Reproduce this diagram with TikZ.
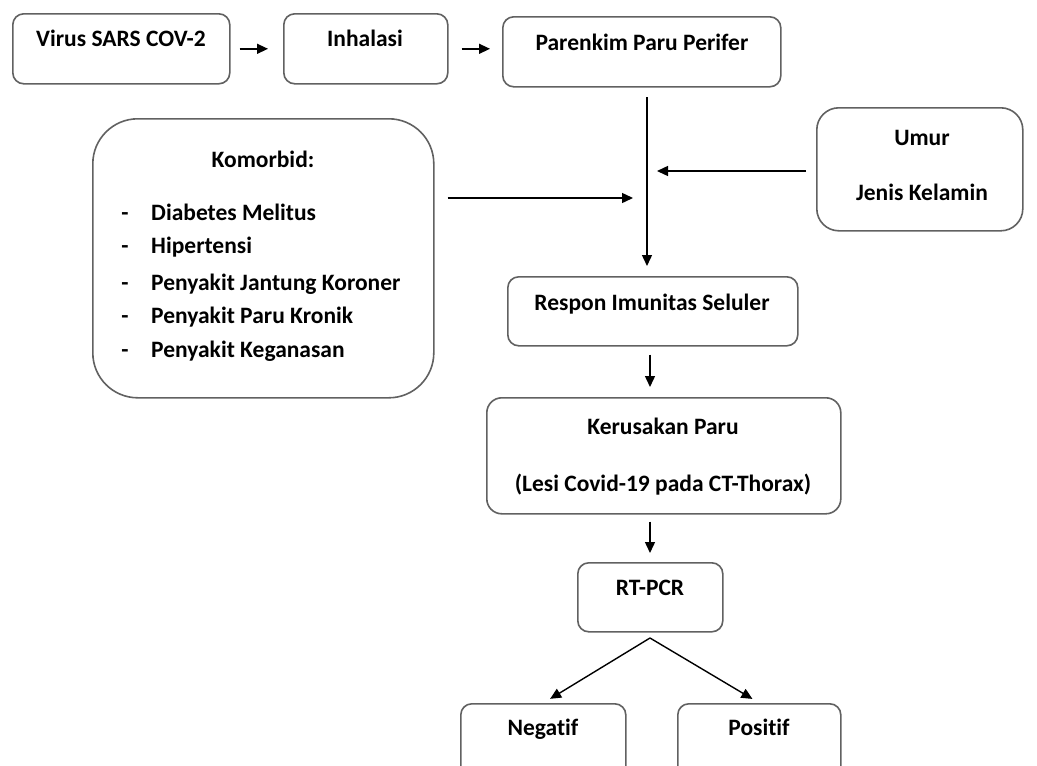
\documentclass[tikz,border=0pt]{standalone}
\usepackage{fontspec}
\setmainfont{Carlito}[Ligatures={NoCommon}]
\usetikzlibrary{arrows.meta,calc}
\tikzset{
  box/.style={draw=black!62, line width=1.6pt, anchor=north west, inner sep=0pt, fill=none},
  txt/.style={font=\bfseries\fontsize{23.5}{28}\selectfont, inner sep=0pt, anchor=base},
  arr/.style={line width=1.4pt, -{Triangle[length=11pt,width=10pt]}},
  ln/.style={line width=1.4pt}
}
\begin{document}
\begin{tikzpicture}[x=1pt,y=-1pt]
\useasboundingbox (0,0) rectangle (1037,766);
\fill[white] (0,0) rectangle (1037,766);
\clip (0,0) rectangle (1037,766);
% boxes
\node[box, rounded corners=11pt, minimum width=217pt, minimum height=70pt] (virus) at (12,13) {};
\node[box, rounded corners=11pt, minimum width=164pt, minimum height=70pt] (inhal) at (283,13) {};
\node[box, rounded corners=11pt, minimum width=278pt, minimum height=70pt] (paren) at (502,16) {};
\node[box, rounded corners=45pt, minimum width=341pt, minimum height=279pt] (komor) at (92,118) {};
\node[box, rounded corners=22pt, minimum width=206pt, minimum height=123pt] (umur) at (816,107) {};
\node[box, rounded corners=11pt, minimum width=290pt, minimum height=69pt] (respon) at (507,276) {};
\node[box, rounded corners=15pt, minimum width=354pt, minimum height=116pt] (kerus) at (486,397) {};
\node[box, rounded corners=11pt, minimum width=145pt, minimum height=69pt] (rtpcr) at (577,562) {};
\node[box, rounded corners=11pt, minimum width=165pt, minimum height=90pt] (neg) at (460,703) {};
\node[box, rounded corners=11pt, minimum width=163pt, minimum height=90pt] (pos) at (677,703) {};
% texts
\node[txt] (tvirus) at (121,46) {Virus SARS COV-2};
\node[txt] (tinhal) at (365,46) {Inhalasi};
\node[txt] (tparen) at (642,50) {Parenkim Paru Perifer};
\node[txt] (tumur1) at (922,145) {Umur};
\node[txt] (tumur2) at (922,200) {Jenis Kelamin};
\node[txt] (tkom) at (263,167) {Komorbid:};
\foreach \t/\y [count=\i] in {Diabetes Melitus/220, Hipertensi/253, Penyakit Jantung Koroner/290, Penyakit Paru Kronik/323, Penyakit Keganasan/357}{
  \node[txt] (d\i) at (125,\y) {-};
  \node[txt, anchor=base west] (k\i) at (151,\y) {\t};
}
\node[txt] (tresp) at (652,310) {Respon Imunitas Seluler};
\node[txt] (tker1) at (663,434) {Kerusakan Paru};
\node[txt] (tker2) at (663,491) {(Lesi Covid-19 pada CT-Thorax)};
\node[txt] (trt) at (650,595) {RT-PCR};
\node[txt] (tneg) at (543,735) {Negatif};
\node[txt] (tpos) at (759,735) {Positif};
% coordinates
\coordinate (vtop) at (647,97);
\coordinate (vbot) at (647,266);
\coordinate (umend) at (657,171);
\coordinate (komend) at (633,198);
\coordinate (apex) at (650,638);
% connectors
\draw[arr, shorten <=9pt, shorten >=15pt] (virus.east) -- (inhal.west);
\draw[arr, shorten <=13pt, shorten >=12pt] (inhal.east) -- (paren.west |- inhal.east);
\draw[arr] (vtop) -- (vbot);
\draw[arr] ([xshift=-10pt]umur.west |- umend) -- (umend);
\draw[arr] ([xshift=13pt]komor.east |- komend) -- (komend);
\draw[arr, shorten <=8pt, shorten >=10pt] (respon.south -| 650,0) -- (kerus.north -| 650,0);
\draw[arr, shorten <=7pt, shorten >=9pt] (kerus.south -| 650,0) -- (rtpcr.north -| 650,0);
\draw[arr, shorten >=8pt] (apex) -- (neg.north);
\draw[arr, shorten >=8pt] (apex) -- (pos.north);
\end{tikzpicture}
\end{document}
